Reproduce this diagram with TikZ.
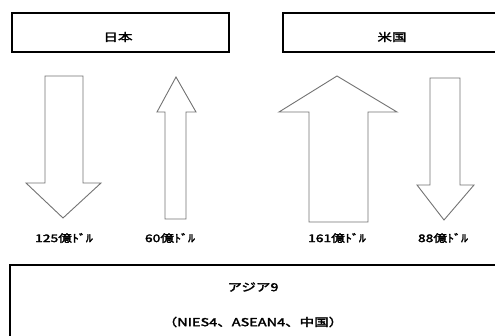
\documentclass[tikz,border=0pt]{standalone}
\usepackage{fontspec}
\newfontfamily\jp{Noto Sans CJK JP}[AutoFakeBold=2.5,FakeStretch=1.32]
\begin{document}
\begin{tikzpicture}[x=1pt,y=-1pt,
  box/.style={draw=black,line width=1.7pt,fill=white},
  blockarrow/.style={draw=black!55,line width=0.9pt,fill=white,line join=miter},
  lbl/.style={font=\jp\bfseries\fontsize{10.5}{12}\selectfont,inner sep=0pt},
  ttl/.style={font=\jp\bfseries\fontsize{11}{13}\selectfont,inner sep=0pt}]
\useasboundingbox (0,0) rectangle (495,336);
% top boxes
\draw[box] (12,13) rectangle (229,52);
\node[ttl] (jp) at (118,37) {日本};
\draw[box] (283,13) rectangle (505,52);
\node[ttl] (us) at (392,37) {米国};
% bottom box
\draw[box] (10,265) rectangle (505,345);
\node[ttl] (asia) at (253,287) {アジア9};
\node[ttl] (asia2) at (253,322) {（NIES4、ASEAN4、中国）};
% arrows
\draw[blockarrow] (45,76) -- (83,76) -- (83,183) -- (101,183) -- (63,218) -- (26,183) -- (45,183) -- cycle;
\draw[blockarrow] (165,219) -- (186,219) -- (186,112) -- (196,112) -- (176,77) -- (157,112) -- (165,112) -- cycle;
\draw[blockarrow] (309,222) -- (368,222) -- (368,112) -- (397,112) -- (337,76) -- (279,112) -- (309,112) -- cycle;
\draw[blockarrow] (430,78) -- (460,78) -- (460,185) -- (474,185) -- (444,220) -- (417,185) -- (430,185) -- cycle;
% labels
\node[lbl] (l1) at (64,238) {125億ﾄﾞﾙ};
\node[lbl] (l2) at (170,238) {60億ﾄﾞﾙ};
\node[lbl] (l3) at (337,238) {161億ﾄﾞﾙ};
\node[lbl] (l4) at (443,238) {88億ﾄﾞﾙ};
\end{tikzpicture}
\end{document}
